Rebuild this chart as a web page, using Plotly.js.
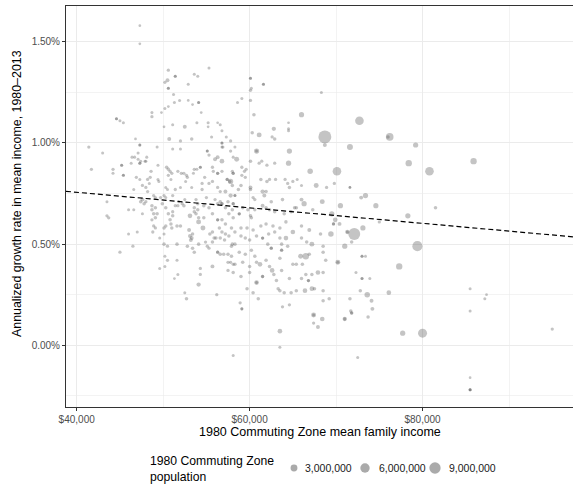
<!DOCTYPE html>
<html><head><meta charset="utf-8">
<script src="https://cdn.plot.ly/plotly-3.0.1.min.js"></script>
<style>html,body{margin:0;padding:0;background:#fff}#chart{width:573px;height:485px}</style>
</head><body><div id="chart"></div>
<script>
// 1980 CZ mean family income (thousands of $)
const income = [
47.3,47.3,50.6,50.2,50.5,51.4,51.4,50.6,50.6,53.6,
54.0,55.3,52.9,51.2,51.9,51.3,52.9,54.1,54.1,53.4,
50.6,50.2,49.8,48.7,48.7,54.4,44.6,44.6,45.0,45.4,
50.1,51.1,52.5,53.9,55.2,56.3,56.6,55.2,56.8,57.3,
57.8,50.7,52.0,53.3,55.6,46.8,47.3,47.3,49.3,41.4,
43.0,51.1,52.0,55.1,55.1,55.3,56.8,56.8,56.9,56.8,
57.8,47.1,46.4,46.7,47.1,47.4,47.9,48.0,48.1,45.2,
45.2,44.2,44.2,45.4,45.4,41.7,47.3,47.3,46.3,48.6,
48.5,49.4,50.4,50.6,50.8,50.6,51.0,50.9,51.7,52.1,
52.4,52.7,52.8,53.6,53.9,54.3,54.3,53.5,54.8,56.0,
56.3,56.8,55.7,55.8,56.3,56.3,56.8,57.4,57.4,57.8,
58.0,46.9,47.3,47.6,48.2,48.4,49.4,49.5,48.2,48.0,
46.6,50.3,50.5,51.4,52.0,52.6,53.3,54.5,54.5,55.3,
55.7,56.3,56.6,48.9,49.1,49.7,50.1,50.3,51.1,47.6,
47.8,48.0,43.5,46.0,57.2,57.8,57.5,56.0,55.0,53.8,
52.5,51.8,56.8,56.8,60.1,60.1,61.6,61.6,60.2,60.1,
59.1,58.6,60.1,68.3,60.5,66.0,72.7,64.5,64.5,64.5,
62.8,60.3,61.1,62.6,62.9,68.7,68.7,76.2,76.0,71.6,
60.8,60.8,64.6,58.3,58.5,58.1,60.1,64.5,61.4,61.1,
62.0,62.9,67.0,70.1,79.2,78.4,80.8,85.9,59.1,59.6,
59.4,58.1,58.1,59.1,59.5,61.3,62.3,62.0,63.0,64.1,
65.0,65.5,64.4,64.6,66.0,67.7,68.9,69.8,71.6,71.6,
57.7,58.0,58.7,59.0,60.1,60.1,61.5,61.9,61.7,58.3,
58.3,60.4,60.6,73.4,72.9,63.8,66.0,66.3,68.4,70.5,
74.6,65.4,67.3,61.5,61.9,62.5,58.1,58.1,59.2,59.8,
58.8,58.8,60.1,60.2,60.6,62.3,62.9,64.0,64.8,65.2,
69.5,57.9,58.3,59.0,59.7,60.4,61.3,61.9,62.7,63.5,
64.2,65.0,66.0,66.9,68.2,69.4,69.7,69.7,70.4,69.9,
71.3,71.3,72.1,73.1,75.0,71.0,71.8,79.4,81.5,78.3,
59.0,59.5,60.0,60.8,61.5,61.5,62.2,62.9,63.5,64.2,
66.0,66.6,67.2,68.5,57.9,58.3,58.8,59.5,60.2,60.6,
61.2,62.1,62.5,62.5,63.7,63.7,63.7,64.4,65.9,66.5,
66.9,68.5,68.8,58.3,59.2,60.0,60.8,61.9,62.3,63.5,
65.0,65.4,66.1,70.2,70.2,73.0,73.0,73.4,77.3,58.1,
59.0,60.0,60.8,60.8,61.5,61.5,62.6,62.8,63.1,63.7,
64.6,66.0,66.5,66.8,66.8,67.2,67.9,68.5,72.3,73.0,
73.0,73.9,59.7,60.4,61.0,63.3,63.5,64.0,64.8,65.4,
66.4,67.2,67.5,68.5,69.2,72.8,76.1,73.6,74.1,74.2,
73.7,71.6,71.7,71.8,71.8,71.0,71.0,58.9,59.1,59.1,
63.8,64.6,68.5,68.4,67.4,67.4,67.4,67.9,63.5,63.5,
58.1,72.5,77.7,80.0,85.5,85.5,87.2,87.4,95.0,85.5,
85.5,85.5,85.5,43.5,43.7,45.0,46.0,47.0,46.5,46.6,
47.4,47.6,48.7,48.9,49.3,49.1,48.7,48.9,49.1,48.8,
49.6,50.1,50.1,50.5,50.1,50.3,50.9,51.0,51.1,51.1,
50.6,50.8,50.2,50.2,49.6,51.6,51.7,51.3,51.6,51.6,
52.0,51.4,51.7,52.2,52.5,52.7,52.8,53.4,53.6,53.0,
53.1,53.3,53.2,53.4,53.1,53.6,53.8,54.0,54.1,54.6,
54.1,54.7,54.1,54.3,54.3,54.1,54.9,55.1,55.3,55.7,
55.4,55.7,55.9,56.1,55.7,56.2,56.3,56.3,56.6,57.0,
57.5,57.9,57.5,57.8,58.1,57.5,56.3,56.3,56.8,57.2,
56.5,56.8,57.2,57.6,56.6,57.1,58.0,54.7,55.3,55.7,
56.3,56.6,57.2,58.0,57.6,58.1,48.7,49.1,49.9,50.3,
52.4,53.6,54.0,50.5
];
// Annualized growth rate in mean income, 1980-2013 (percent)
const growth = [
1.58,1.49,1.36,1.30,1.31,1.33,1.33,1.27,1.27,1.34,
1.33,1.37,1.29,1.24,1.21,1.20,1.21,1.20,1.20,1.19,
1.18,1.17,1.15,1.15,1.13,1.15,1.12,1.12,1.11,1.10,
1.08,1.09,1.08,1.10,1.10,1.10,1.09,1.08,1.06,1.03,
1.01,1.02,1.01,1.02,1.03,1.02,0.99,0.99,0.98,0.98,
0.95,0.97,0.97,0.96,0.96,0.94,1.00,1.00,0.98,0.98,
0.96,0.95,0.93,0.93,0.92,0.91,0.91,0.91,0.93,0.89,
0.89,0.87,0.85,0.84,0.84,0.87,0.90,0.90,0.90,0.86,
0.83,0.89,0.88,0.87,0.86,0.84,0.85,0.82,0.86,0.85,
0.85,0.84,0.83,0.87,0.87,0.88,0.88,0.85,0.83,0.92,
0.93,0.91,0.88,0.86,0.85,0.85,0.86,0.82,0.82,0.81,
0.86,0.83,0.82,0.79,0.82,0.80,0.82,0.81,0.76,0.78,
0.77,0.78,0.77,0.77,0.78,0.81,0.78,0.80,0.77,0.80,
0.81,0.78,0.76,0.74,0.73,0.73,0.74,0.73,0.74,0.72,
0.70,0.71,0.71,0.67,0.76,0.74,0.71,0.72,0.73,0.72,
0.72,0.71,0.70,0.70,1.32,1.32,1.29,1.29,1.27,1.26,
1.22,1.20,1.21,1.25,1.14,1.14,1.11,1.10,1.07,1.06,
1.07,1.05,1.04,1.03,1.02,1.03,0.99,1.03,1.03,0.98,
0.96,0.96,0.96,0.98,0.92,0.93,0.91,0.90,0.91,0.90,
0.89,0.90,0.86,0.86,0.99,0.90,0.86,0.91,0.88,0.87,
0.86,0.85,0.85,0.84,0.83,0.82,0.82,0.81,0.82,0.82,
0.81,0.82,0.80,0.78,0.79,0.79,0.78,0.80,0.78,0.78,
0.81,0.79,0.77,0.79,0.78,0.77,0.76,0.76,0.74,0.74,
0.74,0.73,0.72,0.74,0.73,0.72,0.72,0.70,0.71,0.69,
0.69,0.68,0.67,0.69,0.68,0.71,0.70,0.70,0.68,0.67,
0.65,0.65,0.64,0.63,0.67,0.67,0.66,0.65,0.66,0.68,
0.65,0.58,0.56,0.58,0.58,0.57,0.59,0.60,0.59,0.58,
0.61,0.56,0.59,0.57,0.55,0.55,0.60,0.60,0.60,0.62,
0.56,0.56,0.55,0.58,0.61,0.49,0.51,0.49,0.68,0.64,
0.54,0.53,0.52,0.54,0.53,0.53,0.55,0.56,0.53,0.53,
0.53,0.51,0.50,0.49,0.49,0.50,0.46,0.45,0.47,0.44,
0.40,0.50,0.48,0.48,0.50,0.47,0.47,0.49,0.44,0.44,
0.45,0.46,0.42,0.40,0.41,0.39,0.41,0.42,0.39,0.43,
0.40,0.40,0.40,0.41,0.41,0.44,0.44,0.44,0.39,0.36,
0.34,0.36,0.31,0.31,0.34,0.34,0.37,0.35,0.32,0.37,
0.33,0.33,0.35,0.32,0.32,0.35,0.36,0.36,0.36,0.33,
0.33,0.33,0.28,0.26,0.23,0.28,0.27,0.26,0.26,0.27,
0.27,0.28,0.28,0.27,0.23,0.27,0.26,0.25,0.22,0.18,
0.14,0.23,0.17,0.16,0.16,0.13,0.13,0.21,0.18,0.18,
0.19,0.20,0.22,0.13,0.15,0.15,0.11,0.09,0.07,-0.01,
-0.05,-0.06,0.06,0.06,0.28,0.17,0.23,0.25,0.08,-0.16,
-0.22,-0.22,-0.22,0.64,0.63,0.46,0.55,0.56,0.49,0.67,
0.71,0.65,0.67,0.65,0.65,0.63,0.62,0.59,0.58,0.56,
0.53,0.55,0.50,0.49,0.58,0.59,0.60,0.58,0.64,0.66,
0.65,0.62,0.44,0.39,0.38,0.42,0.35,0.33,0.50,0.59,
0.59,0.69,0.69,0.70,0.26,0.23,0.49,0.48,0.46,0.57,
0.54,0.53,0.52,0.55,0.64,0.66,0.65,0.67,0.61,0.58,
0.63,0.63,0.50,0.38,0.35,0.30,0.51,0.49,0.48,0.51,
0.55,0.56,0.53,0.53,0.39,0.25,0.46,0.46,0.45,0.45,
0.45,0.44,0.41,0.41,0.40,0.37,0.62,0.62,0.62,0.60,
0.58,0.56,0.55,0.54,0.53,0.52,0.50,0.69,0.68,0.65,
0.70,0.71,0.68,0.67,0.65,0.63,0.69,0.68,0.70,0.68,
0.69,0.68,0.70,0.42
];
// 1980 CZ population (millions)
const population = [
0.3,0.3,0.5,0.5,0.8,0.4,0.4,0.4,0.4,0.4,
0.4,0.4,0.4,0.4,0.4,0.4,0.3,0.4,0.4,0.3,
0.3,0.4,0.3,0.4,0.5,0.3,0.4,0.4,0.4,0.4,
0.3,0.4,0.8,0.4,0.4,0.3,0.4,0.3,0.4,0.4,
0.5,0.8,0.5,0.6,0.4,0.3,0.4,0.4,0.4,0.5,
0.4,0.4,0.4,0.4,0.4,0.5,0.4,0.4,0.5,0.4,
0.5,0.4,0.4,0.4,0.4,0.4,0.4,0.4,0.4,0.4,
0.4,0.5,0.4,0.4,0.4,0.5,0.4,0.4,0.4,0.5,
0.5,0.4,0.6,0.6,0.5,0.5,0.5,0.4,0.5,0.5,
0.5,0.5,0.5,0.5,0.4,0.4,0.4,0.4,0.5,0.8,
0.8,1.2,0.5,0.5,0.5,0.5,0.5,0.5,0.5,1.6,
0.5,0.5,0.4,0.5,0.5,0.4,0.4,0.4,0.5,0.5,
0.4,0.4,0.4,0.5,0.4,0.4,0.4,0.5,0.5,0.5,
0.5,0.5,0.5,0.5,0.5,0.5,0.5,0.4,0.5,0.8,
0.6,0.5,0.4,0.4,0.8,1.0,0.6,0.5,0.5,0.5,
0.4,0.4,0.5,0.5,0.4,0.4,0.4,0.4,0.4,0.5,
0.4,0.4,0.5,0.4,0.6,1.6,5.0,0.3,0.4,0.4,
1.0,0.6,1.4,0.5,0.6,12,0.8,3.8,0.6,2.2,
1.6,0.4,1.6,0.4,1.4,0.4,0.6,1.6,0.5,0.5,
0.5,0.5,1.8,5.0,1.6,2.5,5.0,2.5,0.5,0.5,
0.5,0.5,0.5,0.5,0.5,0.6,0.5,0.6,0.5,0.5,
0.5,0.4,0.5,0.6,0.4,1.4,0.5,0.5,0.3,0.3,
0.6,0.6,0.6,0.6,0.8,0.6,1.0,0.6,0.8,0.4,
0.4,0.5,0.5,1.6,0.8,0.6,0.8,1.6,1.4,1.6,
1.6,0.6,0.6,0.8,0.6,0.6,0.5,0.5,0.6,0.6,
0.5,0.5,0.6,0.6,0.5,0.6,0.6,0.6,0.6,0.6,
1.6,0.6,0.6,0.6,0.6,0.6,0.6,0.6,0.6,0.6,
0.6,1.2,0.6,0.8,0.6,1.8,0.5,0.5,0.8,1.2,
1.0,0.4,10,1.6,0.5,1.6,0.6,7.0,0.6,1.6,
0.6,0.6,0.6,0.6,0.5,0.5,0.6,0.6,0.6,1.2,
0.6,0.6,1.4,0.6,0.6,0.6,0.6,0.6,0.6,0.6,
1.2,0.6,0.5,0.5,0.6,0.5,0.5,0.6,1.4,2.5,
0.6,0.6,0.6,0.6,0.6,0.6,0.6,0.6,0.6,0.6,
0.6,0.6,0.6,1.4,0.4,0.4,0.4,0.4,2.5,0.6,
0.6,0.6,1.2,0.4,0.5,0.5,1.2,0.6,0.6,0.6,
0.6,0.6,0.6,0.5,0.5,0.6,1.2,0.6,0.4,0.4,
0.4,0.4,0.6,0.6,0.6,0.6,0.6,0.6,0.6,0.6,
1.2,1.2,0.6,0.6,0.6,0.6,1.2,1.8,0.8,0.8,
0.6,0.6,0.6,0.6,0.4,1.0,0.5,0.5,0.4,0.4,
0.5,0.5,0.6,1.2,1.4,0.4,0.5,0.8,1.2,0.4,
0.4,0.4,1.6,5.5,0.4,0.4,0.4,0.3,0.5,0.3,
0.4,0.4,0.4,0.5,0.5,0.5,0.4,0.4,0.5,0.4,
0.6,0.4,0.6,0.6,0.6,0.6,0.5,0.5,0.5,0.5,
0.4,0.4,0.6,0.5,0.6,0.6,0.6,0.6,0.6,0.5,
0.6,0.6,0.4,0.4,0.4,0.4,0.4,0.3,0.6,0.6,
0.6,0.5,0.5,0.5,0.4,0.6,0.6,0.6,0.6,0.8,
0.8,0.8,0.8,0.6,1.2,0.6,0.6,0.6,1.4,1.4,
0.6,0.6,0.6,0.5,0.5,1.0,0.5,0.5,0.5,0.6,
0.6,0.6,0.6,0.6,0.8,0.5,0.5,0.5,0.6,0.6,
0.6,0.6,0.5,0.5,0.5,0.5,0.5,0.5,0.6,0.6,
0.6,0.6,0.6,0.6,0.6,0.6,0.6,0.6,0.6,0.6,
0.6,0.6,0.6,0.6,0.6,0.6,0.6,0.6,0.6,0.6,
0.6,0.6,0.6,0.5
];
// Dashed fitted line (income in thousands, growth in percent)
const fitIncome = [38.76, 97.4];
const fitGrowth = [0.761, 0.536];
// Size legend
const legendPop = [3, 6, 9];
const legendLabels = ['3,000,000', '6,000,000', '9,000,000'];
const xTickVals = [40000, 60000, 80000];
const yTickVals = [0, 0.005, 0.01, 0.015];

const sizeOf = p => 0.8 + 3.5 * Math.sqrt(p);
const n = Math.min(income.length, growth.length, population.length);
const xs = [], ys = [], ss = [];
for (let i = 0; i < n; i++) { xs.push(income[i]*1000); ys.push(growth[i]/100); ss.push(sizeOf(population[i])); }

const pointColor = 'rgba(85,85,85,0.5)';
const traces = [
  {type:'scatter', mode:'markers', x:xs, y:ys, hoverinfo:'skip', showlegend:false,
   marker:{color:pointColor, size:ss, sizemode:'diameter', line:{width:0}}},
  {type:'scatter', mode:'lines', x:fitIncome.map(v=>v*1000), y:fitGrowth.map(v=>v/100), hoverinfo:'skip', showlegend:false,
   line:{color:'#000', width:1.2, dash:'5px,3px'}}
];

const L = 66, R = 0, T = 6, B = 78, W = 573, H = 485;
const pw = W - L - R, ph = H - T - B;
const px = v => (v - L) / pw, py = v => (H - B - v) / ph;
const font = 'Liberation Sans, Arial, Helvetica, sans-serif';

const shapes = [], annotations = [];
const legendDotX = [294, 365, 435], legendTextX = [303, 377, 447], legendY = 468;
legendPop.forEach((p, i) => {
  const d = sizeOf(p);
  shapes.push({type:'circle', xref:'paper', yref:'paper', xsizemode:'pixel', ysizemode:'pixel',
    xanchor:px(legendDotX[i]), yanchor:py(legendY), x0:-d/2, x1:d/2, y0:-d/2, y1:d/2,
    fillcolor:pointColor, line:{width:0}});
  annotations.push({xref:'paper', yref:'paper', x:px(legendTextX[i]), y:py(legendY), xanchor:'left', yanchor:'middle',
    text:legendLabels[i], showarrow:false, font:{family:font, size:10.5, color:'#1a1a1a'}});
});
annotations.push({xref:'paper', yref:'paper', x:px(148), y:py(469.5), xanchor:'left', yanchor:'middle', align:'left',
  text:'1980 Commuting Zone<br>population', showarrow:false, font:{family:font, size:12.2, color:'#000'}});
annotations.push({xref:'paper', yref:'paper', x:px(320), y:py(432), xanchor:'center', yanchor:'middle',
  text:'1980 Commuting Zone mean family income', showarrow:false, font:{family:font, size:12.5, color:'#000'}});
annotations.push({xref:'paper', yref:'paper', x:px(17), y:py(194), xanchor:'center', yanchor:'middle', textangle:-90,
  text:'Annualized growth rate in mean income, 1980–2013', showarrow:false, font:{family:font, size:12.4, color:'#000'}});

const axisCommon = {showline:true, mirror:true, linecolor:'#333333', linewidth:1, zeroline:false,
  ticks:'outside', ticklen:3, tickwidth:1, tickcolor:'#333333', showgrid:true, gridcolor:'#EBEBEB', gridwidth:1,
  tickfont:{family:font, size:10, color:'#4D4D4D'}};

const layout = {
  width:W, height:H, margin:{l:L, r:R, t:T, b:B}, paper_bgcolor:'#fff', plot_bgcolor:'#fff',
  showlegend:false, hovermode:false,
  xaxis:Object.assign({}, axisCommon, {range:[38762, 97400], tickmode:'array', tickvals:xTickVals, tickformat:'$,.0f',
    minor:{tickmode:'array', tickvals:[50000,70000,90000], showgrid:true, gridcolor:'#EBEBEB', gridwidth:0.6, ticklen:0}}),
  yaxis:Object.assign({}, axisCommon, {range:[-0.00305, 0.01677], tickmode:'array', tickvals:yTickVals, tickformat:'.2%',
    minor:{tickmode:'array', tickvals:[-0.0025,0.0025,0.0075,0.0125], showgrid:true, gridcolor:'#EBEBEB', gridwidth:0.6, ticklen:0}}),
  shapes:shapes, annotations:annotations
};
Plotly.newPlot('chart', traces, layout, {displayModeBar:false, staticPlot:true});
</script>
</body></html>
